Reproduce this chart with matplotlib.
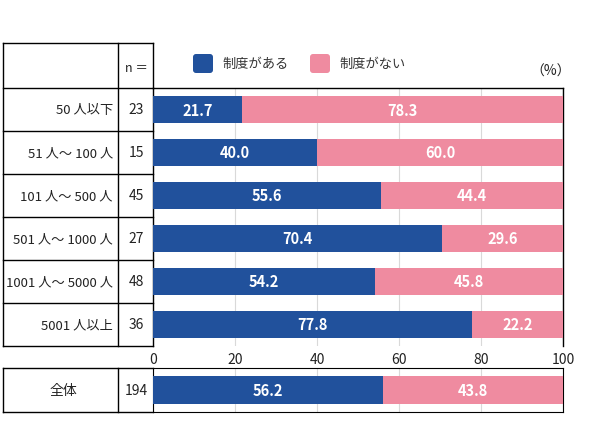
import matplotlib.pyplot as plt
from matplotlib.patches import FancyBboxPatch

plt.rcParams['font.family'] = ['Noto Sans CJK JP', 'DejaVu Sans']

categories = ['50 人以下', '51 人～ 100 人', '101 人～ 500 人', '501 人～ 1000 人',
              '1001 人～ 5000 人', '5001 人以上']
n_values = [23, 15, 45, 27, 48, 36]
has_system = [21.7, 40.0, 55.6, 70.4, 54.2, 77.8]
no_system = [78.3, 60.0, 44.4, 29.6, 45.8, 22.2]

total_label = '全体'
total_n = 194
total_has = 56.2
total_no = 43.8

series_labels = ['制度がある', '制度がない']
blue = '#21519c'
pink = '#ef8ba0'
txt = '#222222'
W, H = 590, 427

fig = plt.figure(figsize=(W / 100, H / 100), dpi=100)

# pixel helpers
def fx(px):
    return px / W

def fy(py):
    return 1 - py / H

x0, x1 = 153, 563
top, bot = 89, 347
ttop, tbot = 369, 413

# background overlay in pixel coords for the table
bg = fig.add_axes([0, 0, 1, 1], zorder=0)
bg.set_xlim(0, W)
bg.set_ylim(H, 0)
bg.axis('off')

ax = fig.add_axes([fx(x0), fy(bot), fx(x1) - fx(x0), fy(top) - fy(bot)], zorder=1)
ax2 = fig.add_axes([fx(x0), fy(tbot), fx(x1) - fx(x0), fy(ttop) - fy(tbot)], zorder=1)

y = list(range(len(categories)))
ax.barh(y, has_system, height=0.63, color=blue, zorder=3)
ax.barh(y, no_system, left=has_system, height=0.63, color=pink, zorder=3)
for i in y:
    ax.text(has_system[i] / 2, i, f'{has_system[i]:.1f}', color='white', ha='center',
            va='center', fontsize=10.5, fontweight='bold', zorder=4)
    ax.text(has_system[i] + no_system[i] / 2, i, f'{no_system[i]:.1f}', color='white',
            ha='center', va='center', fontsize=10.5, fontweight='bold', zorder=4)
ax.set_xlim(0, 100)
ax.set_ylim(len(categories) - 0.5, -0.5)
ax.set_yticks([])
ax.set_xticks([0, 20, 40, 60, 80, 100])
ax.tick_params(axis='x', length=0, pad=4, labelsize=10, labelcolor=txt)
ax.xaxis.grid(True, color='#d9d9d9', linewidth=0.8, zorder=0)
ax.set_axisbelow(True)
ax.spines['bottom'].set_visible(False)
for s in ['top', 'left', 'right']:
    ax.spines[s].set_linewidth(1.0)
ax.patch.set_alpha(0)

ax2.barh([0], [total_has], height=0.63, color=blue, zorder=3)
ax2.barh([0], [total_no], left=[total_has], height=0.63, color=pink, zorder=3)
ax2.text(total_has / 2, 0, f'{total_has:.1f}', color='white', ha='center', va='center',
         fontsize=10.5, fontweight='bold', zorder=4)
ax2.text(total_has + total_no / 2, 0, f'{total_no:.1f}', color='white', ha='center',
         va='center', fontsize=10.5, fontweight='bold', zorder=4)
ax2.set_xlim(0, 100)
ax2.set_ylim(0.5, -0.5)
ax2.set_yticks([])
ax2.set_xticks([0, 20, 40, 60, 80, 100])
ax2.tick_params(axis='x', length=0, labelbottom=False)
ax2.xaxis.grid(True, color='#d9d9d9', linewidth=0.8, zorder=0)
ax2.set_axisbelow(True)
ax2.patch.set_alpha(0)

# table grid on the left
lc = 'black'
lw = 1.0
col_l, col_m = 3, 118
row_h = (bot - top) / len(categories)
bg.plot([col_l, x0], [44, 44], color=lc, lw=lw)
bg.plot([col_l, col_l], [44, bot], color=lc, lw=lw)
bg.plot([col_m, col_m], [44, bot], color=lc, lw=lw)
bg.plot([x0, x0], [44, top], color=lc, lw=lw)
for i in range(len(categories) + 1):
    yy = top + i * row_h
    bg.plot([col_l, x0], [yy, yy], color=lc, lw=lw)
for i, (c, n) in enumerate(zip(categories, n_values)):
    yc = top + (i + 0.5) * row_h
    bg.text(113, yc, c, ha='right', va='center', fontsize=9.5, color=txt)
    bg.text(136, yc, str(n), ha='center', va='center', fontsize=10, color=txt)
bg.text(136, 68, 'n ＝', ha='center', va='center', fontsize=9, color=txt)

# total row table
bg.plot([col_l, x0], [ttop, ttop], color=lc, lw=lw)
bg.plot([col_l, x0], [tbot, tbot], color=lc, lw=lw)
bg.plot([col_l, col_l], [ttop, tbot], color=lc, lw=lw)
bg.plot([col_m, col_m], [ttop, tbot], color=lc, lw=lw)
bg.text(63, (ttop + tbot) / 2, total_label, ha='center', va='center', fontsize=10, color=txt)
bg.text(136, (ttop + tbot) / 2, str(total_n), ha='center', va='center', fontsize=10,
        color=txt)

# legend
for lx, col, lab in [(193, blue, series_labels[0]), (310, pink, series_labels[1])]:
    bg.add_patch(FancyBboxPatch((lx, 55), 20, 19, boxstyle='round,pad=0,rounding_size=3',
                                fc=col, ec='none'))
    bg.text(lx + 29, 64, lab, ha='left', va='center', fontsize=9.5, color='#333333')
bg.text(551, 72, '（%）', ha='center', va='center', fontsize=10, color=txt)

plt.savefig('out.png', dpi=100)
